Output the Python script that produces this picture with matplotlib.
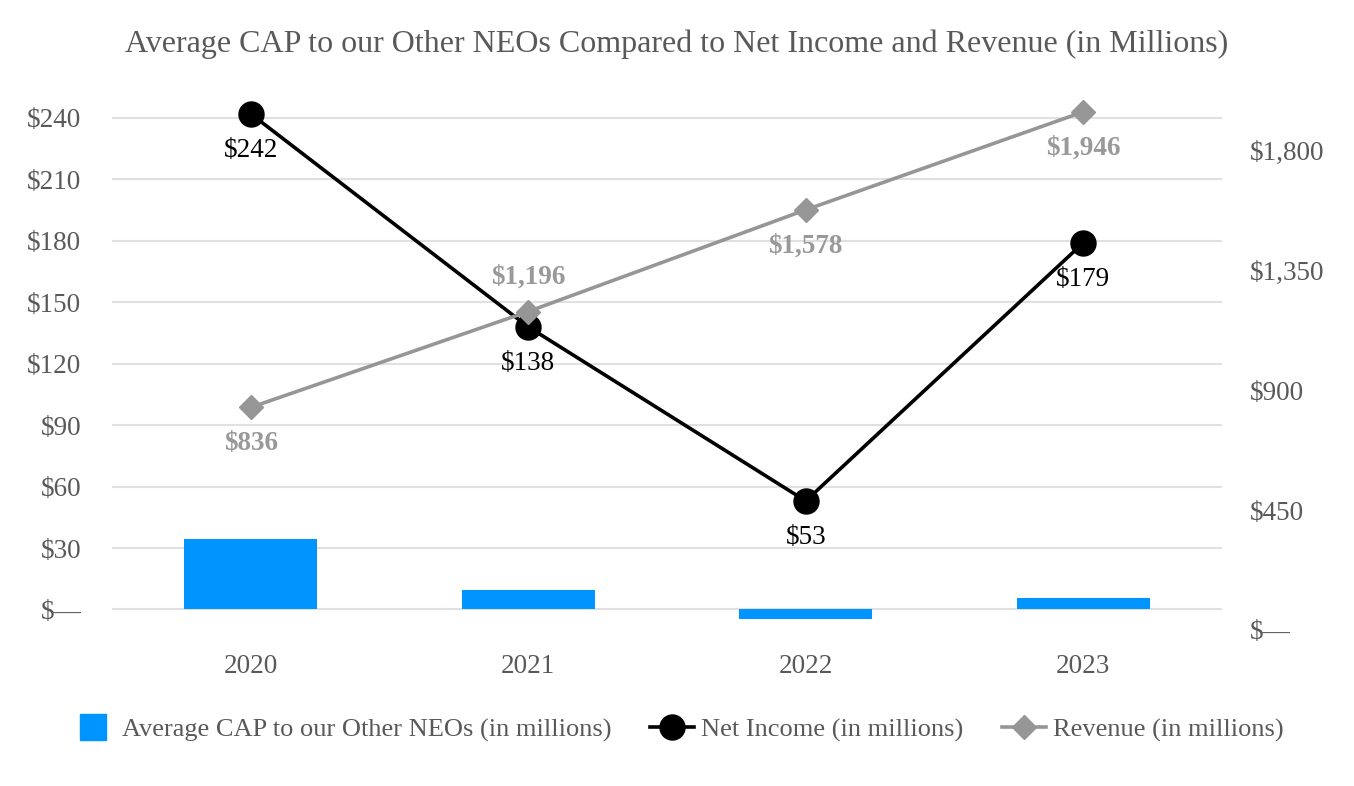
import matplotlib.pyplot as plt
from matplotlib.lines import Line2D

plt.rcParams['font.family'] = ['Liberation Serif', 'DejaVu Serif']

years = ["2020", "2021", "2022", "2023"]
cap_neos = [34.5, 9.3, -4.4, 5.4]
net_income = [242, 138, 53, 179]
revenue = [836, 1196, 1578, 1946]

left_ticks = [0, 30, 60, 90, 120, 150, 180, 210, 240]
right_ticks = [0, 450, 900, 1350, 1800]

grey_txt = "#595959"
bar_col = "#0094FF"
rev_col = "#969696"


def money(v):
    if v == 0:
        return "$\u2014"
    return "${:,.0f}".format(v)


fig = plt.figure(figsize=(13.54, 7.86), dpi=100)
ax1 = fig.add_axes([0.0827, 0.1985, 0.8198, 0.6775])
ax2 = ax1.twinx()

x = list(range(len(years)))
ax1.bar(x, cap_neos, width=0.48, color=bar_col, zorder=2)
ax1.set_ylim(-10, 250)
ax1.set_xlim(-0.5, 3.5)
ax1.set_yticks(left_ticks)
ax1.set_yticklabels([money(v) for v in left_ticks])
ax1.set_xticks(x)
ax1.set_xticklabels(years)
ax1.grid(axis="y", color="#e0e0e0", linewidth=1.5, zorder=0)
ax1.set_axisbelow(True)

ax2.set_ylim(0, 2000)
ax2.set_yticks(right_ticks)
ax2.set_yticklabels([money(v) for v in right_ticks])

# net income on the left scale, revenue on the right one (drawn on top)
ax1.plot(x, net_income, color="black", linewidth=2.6, marker="o",
         markersize=18, zorder=4)
ax2.plot(x, revenue, color=rev_col, linewidth=2.6, marker="D",
         markersize=12, zorder=3)

for xi, v in zip(x, net_income):
    ax1.annotate(money(v), (xi, v), xytext=(0, -26.5), textcoords="offset points",
                 ha="center", va="center", fontsize=19.5, color="black", zorder=5)

rev_off = [-26, 25, -26, -26]
for xi, v, off in zip(x, revenue, rev_off):
    ax2.annotate(money(v), (xi, v), xytext=(0, off), textcoords="offset points",
                 ha="center", va="center", fontsize=19.5, color="#999999",
                 fontweight="bold", zorder=5)

for ax in (ax1, ax2):
    for s in ax.spines.values():
        s.set_visible(False)
    ax.tick_params(length=0, labelsize=19.5, labelcolor=grey_txt)
ax1.tick_params(axis="y", pad=22)
ax1.tick_params(axis="x", pad=17)
ax2.tick_params(axis="y", pad=20)

fig.text(0.5, 1 - 44 / 786,
         "Average CAP to our Other NEOs Compared to Net Income and Revenue (in Millions)",
         ha="center", va="center", fontsize=23, color=grey_txt)

handles = [
    Line2D([0], [0], linestyle="none", marker="s", markersize=19,
           markerfacecolor=bar_col, markeredgecolor=bar_col),
    Line2D([0], [0], color="black", linewidth=2.6, marker="o", markersize=18),
    Line2D([0], [0], color=rev_col, linewidth=2.6, marker="D", markersize=12),
]
labels = ["Average CAP to our Other NEOs (in millions)",
          "Net Income (in millions)", "Revenue (in millions)"]
leg = fig.legend(handles, labels, loc="center", bbox_to_anchor=(0.5, 1 - 730 / 786),
                 ncol=3, frameon=False, fontsize=19, handlelength=1.7,
                 columnspacing=1.45, handletextpad=0.25)
for t in leg.get_texts():
    t.set_color(grey_txt)

fig.savefig("out.png", dpi=100)
